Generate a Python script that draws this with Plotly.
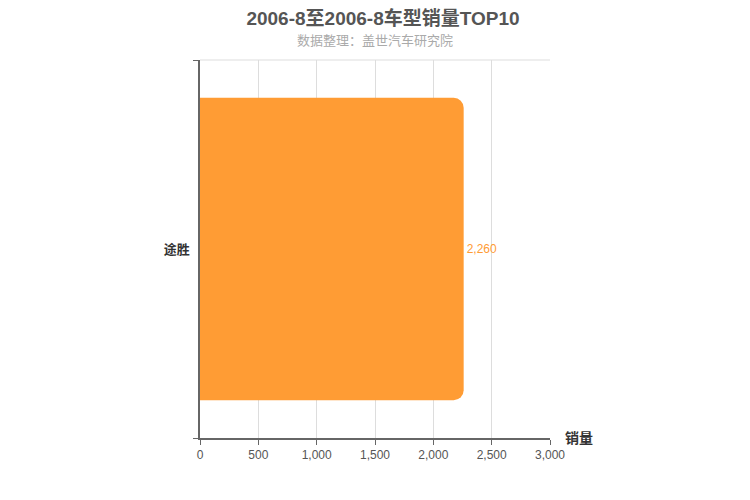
import plotly.graph_objects as go

models = ["途胜"]
sales = [2260]
x_ticks = [0, 500, 1000, 1500, 2000, 2500, 3000]
x_tick_text = ["0", "500", "1,000", "1,500", "2,000", "2,500", "3,000"]

FONT = "Liberation Sans, Noto Sans CJK SC, sans-serif"

fig = go.Figure()
fig.add_trace(
    go.Bar(
        x=sales,
        y=models,
        orientation="h",
        width=0.8,
        marker=dict(color="#ff9c34", cornerradius=10, line_width=0),
        text=[f"{v:,}" for v in sales],
        textposition="outside",
        textfont=dict(color="#ff9c34", size=12, family=FONT),
        cliponaxis=False,
        hoverinfo="x+y",
    )
)

# page body adds an 8px offset, so margins are shifted to compensate
fig.update_layout(
    width=750,
    height=500,
    margin=dict(l=192, r=208, t=52, b=70),
    plot_bgcolor="white",
    paper_bgcolor="white",
    font=dict(family=FONT),
    showlegend=False,
    title=dict(
        text="<b>2006-8至2006-8车型销量TOP10</b>",
        x=0.5,
        xanchor="center",
        y=0.979,
        yanchor="middle",
        font=dict(size=19, color="#555555"),
    ),
    annotations=[
        dict(
            text="数据整理：盖世汽车研究院",
            xref="paper", yref="paper",
            x=0.5, y=1.0, yshift=20,
            xanchor="center", yanchor="middle",
            showarrow=False,
            font=dict(size=13, color="#aaaaaa"),
        ),
        dict(
            text="<b>销量</b>",
            xref="paper", yref="paper",
            x=1.0, y=0.0, xshift=13,
            xanchor="left", yanchor="middle",
            showarrow=False,
            font=dict(size=14, color="#333333"),
        ),
    ],
    shapes=[
        dict(
            type="line", xref="paper", yref="paper",
            x0=0, x1=1, y0=1, y1=1,
            line=dict(color="#dddddd", width=1),
            layer="below",
        )
    ],
)

fig.update_xaxes(
    range=[0, 3000],
    tickvals=x_ticks,
    ticktext=x_tick_text,
    showgrid=True,
    gridcolor="#dddddd",
    gridwidth=1,
    showline=True,
    linecolor="#666666",
    linewidth=1.5,
    ticks="outside",
    ticklen=5,
    tickcolor="#666666",
    tickfont=dict(size=12, color="#555555"),
    zeroline=False,
    fixedrange=True,
)

fig.update_yaxes(
    range=[-0.5, 0.5],
    showgrid=False,
    showline=True,
    linecolor="#666666",
    linewidth=1.5,
    ticks="",
    ticklabelstandoff=6,
    tickfont=dict(size=13, color="#333333", weight="bold"),
    minor=dict(
        tickvals=[-0.5, 0.5],
        ticks="outside",
        ticklen=5,
        tickcolor="#666666",
        showgrid=False,
    ),
    zeroline=False,
    fixedrange=True,
)

fig.write_html("out.html")
